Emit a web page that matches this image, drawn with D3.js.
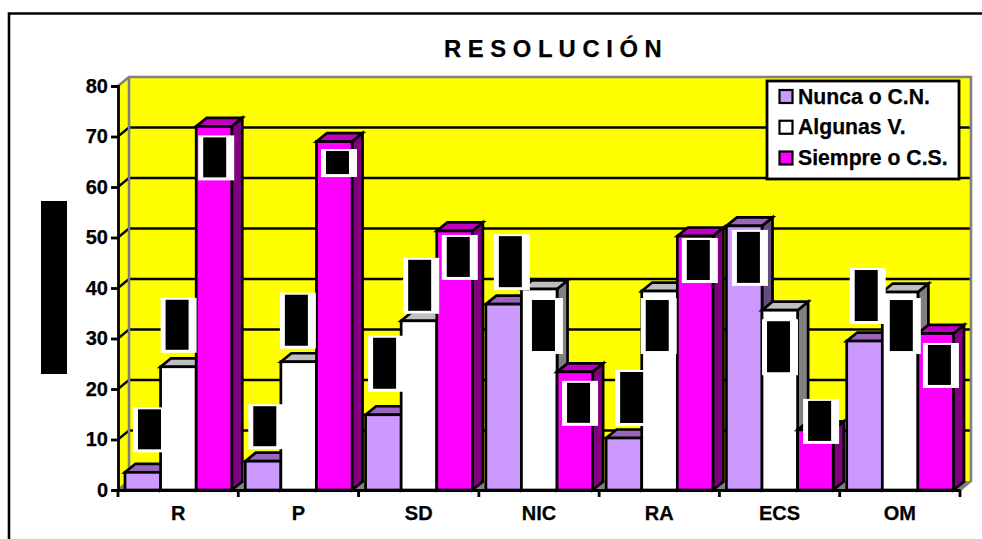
<!DOCTYPE html>
<html lang="es">
<head>
<meta charset="utf-8">
<title>Resolución</title>
<script src="https://cdn.jsdelivr.net/npm/d3@7/dist/d3.min.js"></script>
<style>
  html, body { margin: 0; padding: 0; background: #fff; }
  svg { display: block; }
  text { font-family: "Liberation Sans", Arial, sans-serif; font-weight: bold; fill: #000; stroke: #000; stroke-width: 0.25px; }
</style>
</head>
<body>
<svg id="chart" width="982" height="539"></svg>
<script>
// Data
const titleText = "R E S O L U C I Ó N";
const categories = ["R", "P", "SD", "NIC", "RA", "ECS", "OM"];
const seriesNames = ["Nunca o C.N.", "Algunas V.", "Siempre o C.S."];
const nunca = [3.5, 5.7, 14.9, 36.8, 10.3, 52.3, 29.5];
const algunas = [24.4, 25.4, 33.5, 39.8, 39.4, 35.6, 39.2];
const siempre = [72, 69, 51.3, 23.4, 50.3, 11.9, 31];
const yTicks = [0, 10, 20, 30, 40, 50, 60, 70, 80];

// Bar face colours per series: front, top, side
const faces = [
  { front: "#CC99FF", top: "#9966BB", side: "#664D80" },
  { front: "#FFFFFF", top: "#BFBFBF", side: "#808080" },
  { front: "#FF00FF", top: "#BF00BF", side: "#800080" }
];

// Concealed value labels, placed relative to each bar's left edge and front top
const labelDx = [[8, 0, 2], [3, -1, 4.5], [2.5, 2, 5], [8, 5.5, 5], [9, -1, 4.5], [5.5, 0, 5.5], [3, 2.5, 5]];
const labelDy = [[-65, -69, 9], [-57, -69, 7.5], [-79, -63, 4], [-70, 9, 9], [-68, 7, 2], [4, 9, -31], [-73, 6, 9.5]];
const labelH = [[45, 55, 45], [45, 56, 28], [56, 56, 45], [56, 56, 45], [56, 56, 45], [56, 56, 45], [56, 56, 45]];

const svg = d3.select("#chart");
const wallDepth = { x: 11, y: 9 };
const barDepth = { x: 10.5, y: 8.5 };
const grey = "#808080";

const x = d3.scaleBand().domain(categories).range([118, 960]);
const xBar = d3.scaleBand().domain(d3.range(3)).range([7, x.bandwidth() - 6.5]);
const y = d3.scaleLinear().domain([0, 80]).range([490, 86]);
const values = [nunca, algunas, siempre];
const poly = pts => pts.map(p => p.join(",")).join(" ");

// Outer frame: only the top and left edges fall inside the page
svg.append("path").attr("d", "M9,545V13.5H985").attr("fill", "none").attr("stroke", "#000").attr("stroke-width", 2.6);

svg.append("text").attr("x", 444).attr("y", 57).attr("font-size", 23.8).text(titleText);

// Concealed axis title
svg.append("rect").attr("x", 41).attr("y", 201).attr("width", 26).attr("height", 173).attr("fill", "#000");

// Walls and floor
const x0 = x.range()[0], x1 = x.range()[1], yB = y(0), yT = y(80);
const dx = wallDepth.x, dy = wallDepth.y;
svg.append("polygon").attr("points", poly([[x0, yT], [x0 + dx, yT - dy], [x0 + dx, yB - dy], [x0, yB]])).attr("fill", "#FFFF00");
svg.append("polygon").attr("points", poly([[x0, yB], [x0 + dx, yB - dy], [x1 + dx, yB - dy], [x1, yB]])).attr("fill", grey);
svg.append("rect").attr("x", x0 + dx).attr("y", yT - dy).attr("width", x1 - x0).attr("height", yB - yT).attr("fill", "#FFFF00");

// Gridlines along the side wall and the back wall
const grid = svg.append("g").attr("stroke", "#000").attr("stroke-width", 2.3).attr("fill", "none");
grid.selectAll("path").data(yTicks.filter(t => t > 0 && t < 80)).join("path")
  .attr("d", t => `M${x0},${y(t)}L${x0 + dx},${y(t) - dy}H${x1 + dx}`);

// Wall outlines
svg.append("path")
  .attr("d", `M${x0},${yT}L${x0 + dx},${yT - dy}H${x1 + dx}V${yB - dy}L${x1},${yB}M${x0 + dx},${yT - dy}V${yB - dy}L${x0},${yB}`)
  .attr("fill", "none").attr("stroke", grey).attr("stroke-width", 2.6);

// Bars, each with a front, top and side face
const bars = [];
categories.forEach((c, i) => values.forEach((v, s) => bars.push({ c, i, s, v: v[i] })));
const barW = xBar.bandwidth();
const barG = svg.append("g").attr("stroke", "#000").attr("stroke-width", 2.7).attr("stroke-linejoin", "miter");
const bar = barG.selectAll("g").data(bars).join("g");
const left = d => x(d.c) + xBar(d.s);
bar.append("polygon").attr("fill", d => faces[d.s].side)
  .attr("points", d => poly([[left(d) + barW, y(d.v)], [left(d) + barW + barDepth.x, y(d.v) - barDepth.y], [left(d) + barW + barDepth.x, yB - barDepth.y], [left(d) + barW, yB]]));
bar.append("polygon").attr("fill", d => faces[d.s].top)
  .attr("points", d => poly([[left(d), y(d.v)], [left(d) + barDepth.x, y(d.v) - barDepth.y], [left(d) + barW + barDepth.x, y(d.v) - barDepth.y], [left(d) + barW, y(d.v)]]));
bar.append("rect").attr("fill", d => faces[d.s].front)
  .attr("x", left).attr("y", d => y(d.v)).attr("width", barW).attr("height", d => yB - y(d.v));

// Axes
const yAxis = d3.axisLeft(y).tickValues(yTicks).tickSize(7).tickPadding(3);
const yG = svg.append("g").attr("transform", `translate(${x0},0)`).call(yAxis);
const xAxis = d3.axisBottom(x).tickSize(0).tickPadding(22);
const xG = svg.append("g").attr("transform", `translate(0,${yB})`).call(xAxis);
[yG, xG].forEach(g => {
  g.selectAll(".domain").attr("stroke", "#000").attr("stroke-width", 2.8);
  g.selectAll("line").attr("stroke", "#000").attr("stroke-width", 2.8);
  g.selectAll("text").attr("font-size", 20).attr("font-family", null);
  g.attr("font-family", null).attr("font-size", null);
});
xG.selectAll("text").attr("dy", "0.42em");
xG.selectAll(".boundary").data(d3.range(categories.length + 1)).join("line")
  .attr("class", "boundary").attr("stroke", "#000").attr("stroke-width", 2.8)
  .attr("x1", i => x0 + i * x.step()).attr("x2", i => x0 + i * x.step())
  .attr("y1", 0).attr("y2", 7);

// Concealed value labels
const boxW = 36;
const masks = svg.append("g").selectAll("g").data(bars).join("g")
  .attr("transform", d => `translate(${left(d) + labelDx[d.i][d.s]},${y(d.v) + labelDy[d.i][d.s]})`);
masks.append("rect").attr("fill", "#fff").attr("width", boxW).attr("height", d => labelH[d.i][d.s]);
masks.append("rect").attr("fill", "#000").attr("x", 5).attr("y", 2).attr("width", 23).attr("height", d => labelH[d.i][d.s] - 5);

// Legend
const legend = svg.append("g").attr("transform", "translate(767,81)");
legend.append("rect").attr("width", 192).attr("height", 98).attr("fill", "#fff").attr("stroke", "#000").attr("stroke-width", 2.8);
const legendY = d3.scalePoint().domain(seriesNames).range([15.5, 77]);
const item = legend.selectAll(".item").data(seriesNames).join("g").attr("class", "item")
  .attr("transform", d => `translate(0,${legendY(d)})`);
item.append("rect").attr("x", 12.5).attr("y", -6.5).attr("width", 13).attr("height", 13)
  .attr("fill", (d, i) => faces[i].front).attr("stroke", "#000").attr("stroke-width", 2.2);
item.append("text").attr("x", 31).attr("y", 7).attr("font-size", 21.2).text(d => d);
</script>
</body>
</html>
